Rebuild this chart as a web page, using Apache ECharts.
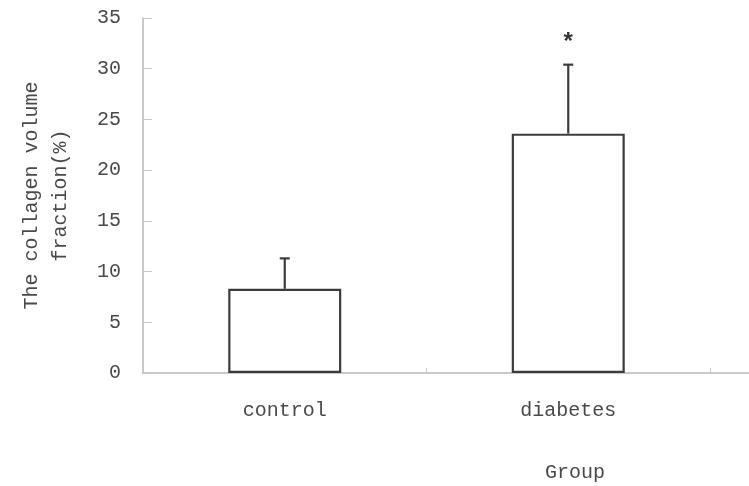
<!DOCTYPE html>
<html><head><meta charset="utf-8">
<script src="https://cdn.jsdelivr.net/npm/echarts@6/dist/echarts.min.js"></script>
<style>html,body{margin:0;padding:0;background:#fff}#c{width:749px;height:486px}</style>
</head><body><div id="c"></div>
<script>
const categories = ['control', 'diabetes'];
const means = [8.3, 23.6];
const errors = [3.0, 6.8];
const marks = ['', '*'];
const yTicks = [0, 5, 10, 15, 20, 25, 30, 35];

const FONT = 'Liberation Mono';
const TXT = '#4a4a4a';
const chart = echarts.init(document.getElementById('c'));
chart.setOption({
  animation: false,
  backgroundColor: '#fff',
  title: {
    text: 'Group', left: 570, top: 458, textAlign: 'center',
    textStyle: { fontFamily: FONT, fontSize: 20, fontWeight: 'normal', color: TXT }
  },
  grid: { left: 143, right: 39, top: 18, bottom: 113 },
  xAxis: {
    type: 'category', data: categories,
    axisLine: { lineStyle: { color: '#b8b8b8', width: 1.5 } },
    axisTick: { show: true, inside: true, length: 5, lineStyle: { color: '#c8c8c8' } },
    axisLabel: { fontFamily: FONT, fontSize: 20, color: TXT, margin: 28 }
  },
  yAxis: {
    type: 'value', min: yTicks[0], max: yTicks[yTicks.length - 1], interval: 5,
    name: 'The collagen volume\nfraction(%)', nameLocation: 'middle', nameGap: 68,
    nameTextStyle: { fontFamily: FONT, fontSize: 20, color: TXT, lineHeight: 29 },
    axisLine: { show: true, lineStyle: { color: '#b8b8b8', width: 1.5 } },
    axisTick: { show: true, inside: true, length: 9, lineStyle: { color: '#c8c8c8' } },
    axisLabel: { fontFamily: FONT, fontSize: 20, color: TXT, margin: 22 },
    splitLine: { show: false }
  },
  graphic: [{
    type: 'line', shape: { x1: 710, y1: 373, x2: 749, y2: 373 },
    style: { stroke: '#b8b8b8', lineWidth: 1.5 }
  }],
  series: [{
    type: 'bar', data: means, barWidth: 113,
    itemStyle: { color: '#fff', borderColor: '#3c3c3c', borderWidth: 2.2 }
  }, {
    type: 'custom',
    data: categories.map((c, i) => [i, means[i], means[i] + errors[i], marks[i]]),
    renderItem: function (params, api) {
      const x = api.value(0);
      const lo = api.coord([x, api.value(1)]);
      const hi = api.coord([x, api.value(2)]);
      const cap = 5;
      const children = [
        { type: 'line', shape: { x1: lo[0], y1: lo[1], x2: hi[0], y2: hi[1] }, style: { stroke: '#3c3c3c', lineWidth: 2.2 } },
        { type: 'line', shape: { x1: hi[0] - cap, y1: hi[1], x2: hi[0] + cap, y2: hi[1] }, style: { stroke: '#3c3c3c', lineWidth: 2.2 } }
      ];
      const m = api.value(3);
      if (m) {
        children.push({ type: 'text', x: hi[0], y: hi[1] - 9, style: { text: m, fontFamily: FONT, fontSize: 24, fontWeight: 'bold', fill: '#333', align: 'center', verticalAlign: 'bottom' } });
      }
      return { type: 'group', children: children };
    },
    z: 5
  }]
});
</script></body></html>
